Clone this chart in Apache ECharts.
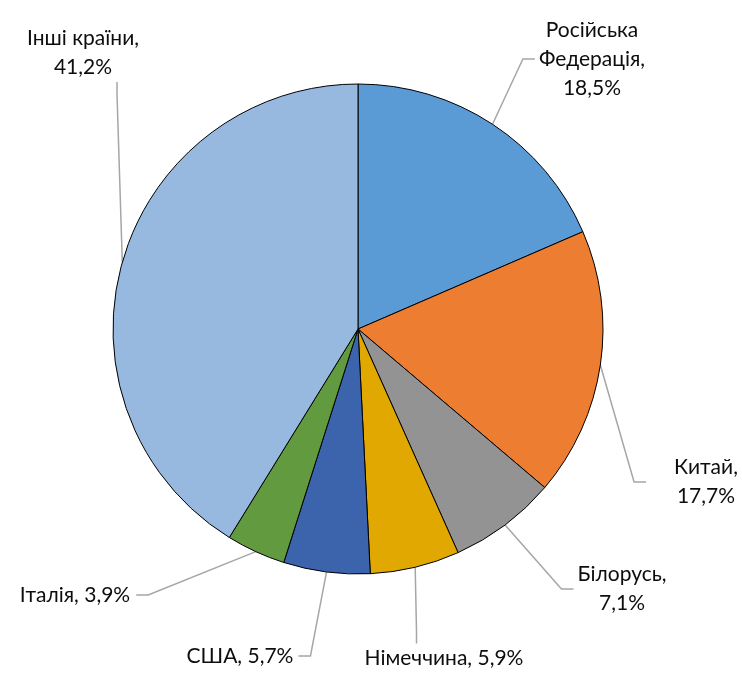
<!DOCTYPE html>
<html>
<head>
<meta charset="utf-8" />
<title>Pie</title>
<script src="https://cdn.jsdelivr.net/npm/echarts@6/dist/echarts.min.js"></script>
<style>
  html, body { margin: 0; padding: 0; background: #fff; }
  #chart { width: 742px; height: 680px; }
</style>
</head>
<body>
<div id="chart"></div>
<script>
// data
var countries = ['Російська Федерація', 'Китай', 'Білорусь', 'Німеччина', 'США', 'Італія', 'Інші країни'];
var shares = [18.5, 17.7, 7.1, 5.9, 5.7, 3.9, 41.2];
var colors = ['#5B9BD5', '#ED7D31', '#939393', '#E0A800', '#3B64AD', '#629A3F', '#98B9DF'];

// label layout: text centre and box padding [top, right, bottom, left]
// (padding steers which side of the box the leader line goes to)
var labelPos = [[592, 53], [706, 471], [622, 589], [444, 658], [240, 639], [75, 590], [83, 53]];
var labelPad = [[0, 0, 12, 4], [0, 60, 22, 28], [0, 0, 0, 4], [0, 0, 0, 55], [0, 5, 34, 0], [0, 6, 10, 0], [0, 68, 0, 0]];
var labelSep = ['\n', '\n', '\n', ' ', ' ', ' ', '\n'];

var chart = echarts.init(document.getElementById('chart'));

var pieData = countries.map(function (c, i) {
  return {
    name: c,
    value: shares[i],
    itemStyle: { color: colors[i] },
    label: { padding: labelPad[i] }
  };
});

chart.setOption({
  animation: false,
  series: [{
    type: 'pie',
    center: [358, 329],
    radius: 245,
    startAngle: 90,
    clockwise: true,
    avoidLabelOverlap: false,
    itemStyle: { borderColor: '#000', borderWidth: 1 },
    label: {
      show: true,
      position: 'outside',
      fontFamily: 'Lato, "Open Sans", sans-serif',
      fontSize: 21,
      lineHeight: 29,
      color: '#0d0d0d',
      formatter: function (p) {
        var name = p.name;
        if (p.dataIndex === 0) name = name.replace(' ', '\n');
        return name + ',' + labelSep[p.dataIndex] + p.value.toFixed(1).replace('.', ',') + '%';
      }
    },
    labelLine: {
      show: true,
      length: 20,
      length2: 12,
      lineStyle: { color: '#A6A6A6', width: 1.5 }
    },
    labelLayout: function (params) {
      var i = params.dataIndex;
      var pos = labelPos[i];
      var pad = labelPad[i];
      return {
        x: pos[0] + (pad[1] - pad[3]) / 2,
        y: pos[1] + (pad[2] - pad[0]) / 2,
        align: 'center',
        verticalAlign: 'middle',
        hideOverlap: false
      };
    },
    emphasis: { disabled: true },
    data: pieData
  }]
});
</script>
</body>
</html>
